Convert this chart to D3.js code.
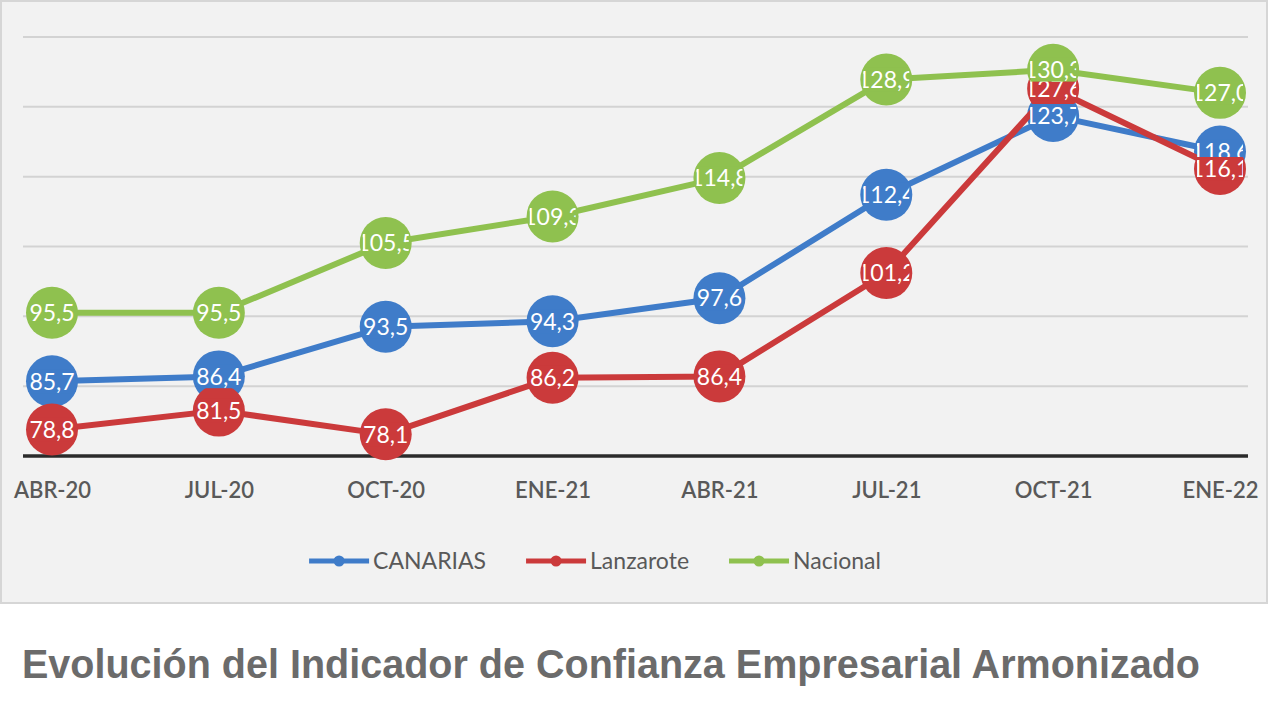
<!DOCTYPE html>
<html>
<head>
<meta charset="utf-8">
<script src="https://cdn.jsdelivr.net/npm/d3@7"></script>
<style>
  html, body { margin: 0; padding: 0; background: #ffffff; }
  svg { display: block; }
</style>
</head>
<body>
<svg id="chart" width="1273" height="701"></svg>
<script>
// ---- data ----
const categories = ["ABR-20", "JUL-20", "OCT-20", "ENE-21", "ABR-21", "JUL-21", "OCT-21", "ENE-22"];
const seriesNames = ["CANARIAS", "Lanzarote", "Nacional"];
const canarias  = [85.7, 86.4, 93.5, 94.3, 97.6, 112.4, 123.7, 118.6];
const lanzarote = [78.8, 81.5, 78.1, 86.2, 86.4, 101.2, 127.6, 116.1];
const nacional  = [95.5, 95.5, 105.5, 109.3, 114.8, 128.9, 130.3, 127.0];
const yTicks = [75, 85, 95, 105, 115, 125, 135];
const titleText = "Evolución del Indicador de Confianza Empresarial Armonizado";

const colors = ["#3f7cc9", "#cb3a3b", "#8fc14f"];
const seriesValues = [canarias, lanzarote, nacional];

const svg = d3.select("#chart");

// frame
svg.append("rect").attr("x", 1).attr("y", 1).attr("width", 1266).attr("height", 602)
  .attr("fill", "#f2f2f2").attr("stroke", "#d6d6d6").attr("stroke-width", 2);

const x = d3.scalePoint().domain(categories).range([52, 1220]);
const y = d3.scaleLinear().domain([75, 135]).range([456, 37]);
const plotLeft = 23, plotRight = 1248;

// gridlines
svg.append("g").selectAll("line").data(yTicks.slice(1)).join("line")
  .attr("x1", plotLeft).attr("x2", plotRight)
  .attr("y1", d => y(d)).attr("y2", d => y(d))
  .attr("stroke", "#d3d3d3").attr("stroke-width", 2);

// x axis
const xAxis = d3.axisBottom(x).tickSize(0).tickPadding(0);
const gx = svg.append("g").attr("transform", `translate(0,${y(75)})`).call(xAxis);
gx.select(".domain").remove();
gx.append("line").attr("x1", plotLeft).attr("x2", plotRight).attr("y1", 0).attr("y2", 0)
  .attr("stroke", "#2b2b2b").attr("stroke-width", 3.5);
gx.selectAll(".tick text")
  .attr("y", 42).attr("dy", 0)
  .attr("fill", "#595959")
  .style("font-family", "Lato, 'Open Sans', sans-serif")
  .style("font-size", "22px")
  .style("font-weight", "600");

// series lines and markers
const line = d3.line().x((d, i) => x(categories[i])).y(d => y(d));
const R = 26;
seriesValues.forEach((vals, s) => {
  const g = svg.append("g");
  g.append("path").datum(vals).attr("d", line)
    .attr("fill", "none").attr("stroke", colors[s]).attr("stroke-width", 6)
    .attr("stroke-linejoin", "round");
  g.selectAll("circle").data(vals).join("circle")
    .attr("cx", (d, i) => x(categories[i])).attr("cy", d => y(d)).attr("r", R)
    .attr("fill", colors[s]);
});

// data labels (filled boxes, text clipped to box)
const defs = svg.append("defs");
const fmt = v => d3.format(".1f")(v).replace(".", ",");
const boxW = 46, boxH = 24;
seriesValues.forEach((vals, s) => {
  vals.forEach((v, i) => {
    const cx = x(categories[i]), cy = y(v);
    const id = `clip-${s}-${i}`;
    defs.append("clipPath").attr("id", id).append("rect")
      .attr("x", cx - boxW / 2).attr("y", cy - boxH / 2).attr("width", boxW).attr("height", boxH);
    const g = svg.append("g").attr("clip-path", `url(#${id})`);
    g.append("rect").attr("x", cx - boxW / 2).attr("y", cy - boxH / 2)
      .attr("width", boxW).attr("height", boxH).attr("fill", colors[s]);
    g.append("text").attr("x", cx).attr("y", cy).attr("dy", "0.36em")
      .attr("text-anchor", "middle").attr("fill", "#ffffff")
      .style("font-family", "Lato, 'Open Sans', sans-serif")
      .style("font-size", "23px")
      .text(fmt(v));
  });
});

// legend
const legend = svg.append("g");
const gap = 40;
let cursor = 0;
seriesNames.forEach((name, s) => {
  const item = legend.append("g").attr("transform", `translate(${cursor},0)`);
  item.append("line").attr("x1", 0).attr("x2", 60).attr("y1", 0).attr("y2", 0)
    .attr("stroke", colors[s]).attr("stroke-width", 5);
  item.append("circle").attr("cx", 30).attr("cy", 0).attr("r", 5.5).attr("fill", colors[s]);
  const t = item.append("text").attr("x", 64).attr("y", 0).attr("dy", "0.36em")
    .attr("fill", "#595959")
    .style("font-family", "Lato, 'Open Sans', sans-serif")
    .style("font-size", "23px")
    .text(name);
  cursor += 64 + t.node().getComputedTextLength() + gap;
});
cursor -= gap;
legend.attr("transform", `translate(${595 - cursor / 2},561)`);

// title
svg.append("text").attr("x", 22).attr("y", 678)
  .attr("fill", "#6b6b6b")
  .style("font-family", "'Liberation Sans Narrow', 'Liberation Sans', Arial, sans-serif")
  .style("font-size", "41px")
  .style("font-weight", "bold")
  .attr("textLength", 1178).attr("lengthAdjust", "spacingAndGlyphs")
  .text(titleText);
</script>
</body>
</html>
